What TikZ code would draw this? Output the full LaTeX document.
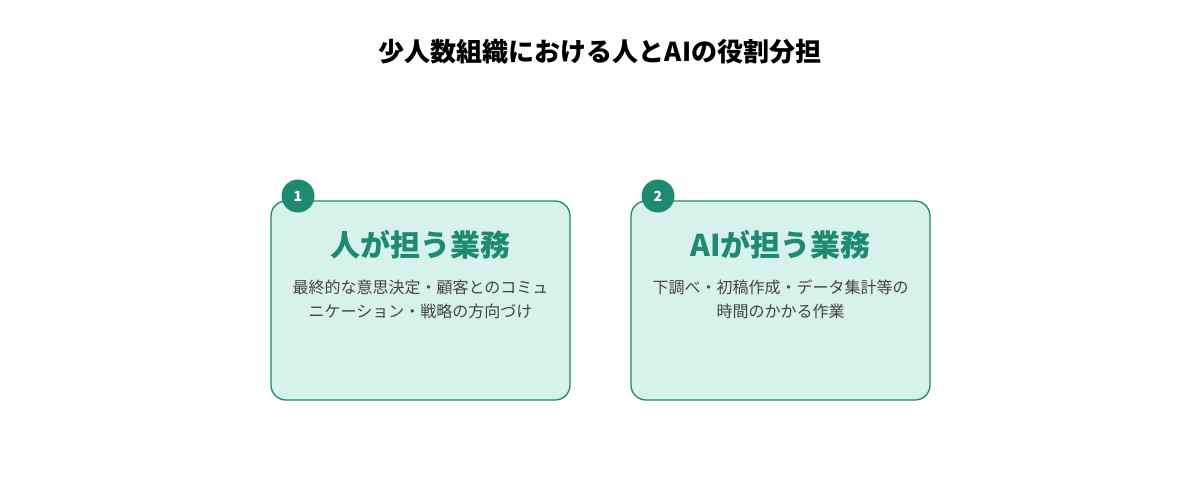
\documentclass[tikz,border=0pt]{standalone}
\usepackage{fontspec}
\setmainfont{Noto Sans CJK JP}
\usetikzlibrary{positioning}
\definecolor{teal}{HTML}{1E8A70}
\definecolor{mint}{HTML}{D6F2EA}
\definecolor{bodytext}{HTML}{444444}
\tikzset{
	card/.style={draw=teal, fill=mint, line width=1.3pt, rounded corners=15pt},
	badge/.style={circle, fill=teal, text=white, minimum size=33pt, inner sep=0pt, font=\fontsize{14}{14}\selectfont\bfseries},
	heading/.style={text=teal, font=\fontsize{30}{32}\selectfont\bfseries},
	body/.style={text=bodytext, align=center, font=\fontsize{16}{24}\selectfont}
}

\begin{document}
\begin{tikzpicture}[x=1pt, y=-1pt]
			%%%%% START %%%%%
			
			\useasboundingbox[fill=white] (0, 0) rectangle (1200, 500);
			
			\node[font=\fontsize{26}{28}\selectfont\bfseries] (title) at (600, 52) {少人数組織における人とAIの役割分担};
			
			\draw[card] (271, 201) rectangle (570, 400);
			\node[badge] (one) at (298, 196) {1};
			\node[heading] (human) at (420.5, 245) {人が担う業務};
			\node[body] (humantext) at (420.5, 299) {最終的な意思決定・顧客とのコミュ\\ニケーション・戦略の方向づけ};
			
			\draw[card] (631, 201) rectangle (930, 400);
			\node[badge] (two) at (658, 196) {2};
			\node[heading] (ai) at (780.5, 245) {AIが担う業務};
			\node[body] (aitext) at (780.5, 299) {下調べ・初稿作成・データ集計等の\\時間のかかる作業};
			
			%%%%% END %%%%%
		\end{tikzpicture}
\end{document}
